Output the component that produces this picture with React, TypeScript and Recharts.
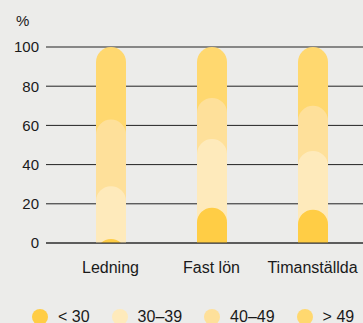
import { BarChart, Bar, XAxis, YAxis, CartesianGrid } from "recharts";

const categories = ["Ledning", "Fast lön", "Timanställda"];
const under30 = [2, 18, 17];
const age30to39 = [27, 35, 30];
const age40to49 = [34, 21, 23];
const over49 = [37, 26, 30];
const yTicks = [0, 20, 40, 60, 80, 100];

const groups = [
  { key: "under30", label: "< 30", values: under30, color: "#ffcd45" },
  { key: "a30", label: "30–39", values: age30to39, color: "#feeabb" },
  { key: "a40", label: "40–49", values: age40to49, color: "#fee09a" },
  { key: "over49", label: "> 49", values: over49, color: "#ffd86f" },
];

// each bar runs from 0 to the cumulative share, drawn back to front
const data = categories.map((name, i) => {
  const row: Record<string, number | string> = { name };
  let sum = 0;
  groups.forEach((g) => {
    sum += g.values[i];
    row[g.key] = sum;
  });
  return row;
});

const font = "'Liberation Sans', Arial, sans-serif";

const PillShape = (props: any) => {
  const { x, y, width, height, fill } = props;
  if (!height || height <= 0) return null;
  const r = width / 2;
  const cx = x + r;
  let d: string;
  if (height >= r) {
    d = `M${x},${y + height} L${x},${y + r} A${r},${r} 0 0 1 ${x + width},${y + r} L${x + width},${y + height} Z`;
  } else {
    const c = Math.sqrt(r * r - (r - height) * (r - height));
    d = `M${cx - c},${y + height} A${r},${r} 0 0 1 ${cx + c},${y + height} Z`;
  }
  return <path d={d} fill={fill} />;
};

export default function App() {
  return (
    <div
      style={{
        position: "absolute",
        left: 0,
        top: 0,
        width: 363,
        height: 323,
        background: "#ececea",
        fontFamily: font,
        color: "#1a1a1a",
        overflow: "hidden",
      }}
    >
      <div style={{ position: "absolute", left: 16, top: 12, fontSize: 15 }}>%</div>
      <BarChart
        width={363}
        height={303}
        data={data}
        margin={{ top: 47, right: 0, bottom: 0, left: 0 }}
        barSize={30}
        barGap={-30}
      >
        <CartesianGrid vertical={false} stroke="#222" strokeDasharray="" />
        <XAxis
          dataKey="name"
          padding={{ left: 14, right: 0 }}
          tickLine={false}
          axisLine={{ stroke: "#333" }}
          tickMargin={13}
          height={60}
          tick={{ fontSize: 16, fill: "#1a1a1a", fontFamily: font }}
          interval={0}
        />
        <YAxis
          domain={[0, 100]}
          ticks={yTicks}
          width={46}
          tickLine={false}
          axisLine={false}
          tickMargin={1}
          tick={{ fontSize: 15, fill: "#1a1a1a", fontFamily: font }}
        />
        {[...groups].reverse().map((g) => (
          <Bar
            key={g.key}
            dataKey={g.key}
            fill={g.color}
            shape={PillShape}
            isAnimationActive={false}
          />
        ))}
      </BarChart>
      <div
        style={{
          position: "absolute",
          left: 32,
          top: 309,
          display: "flex",
          alignItems: "center",
          gap: 22,
          fontSize: 16,
          whiteSpace: "nowrap",
        }}
      >
        {groups.map((g) => (
          <div key={g.key} style={{ display: "flex", alignItems: "center", height: 16 }}>
            <span
              style={{
                width: 16,
                height: 16,
                borderRadius: 8,
                background: g.color,
                marginRight: 10,
                display: "inline-block",
              }}
            />
            <span style={{ lineHeight: "12px" }}>{g.label}</span>
          </div>
        ))}
      </div>
    </div>
  );
}
